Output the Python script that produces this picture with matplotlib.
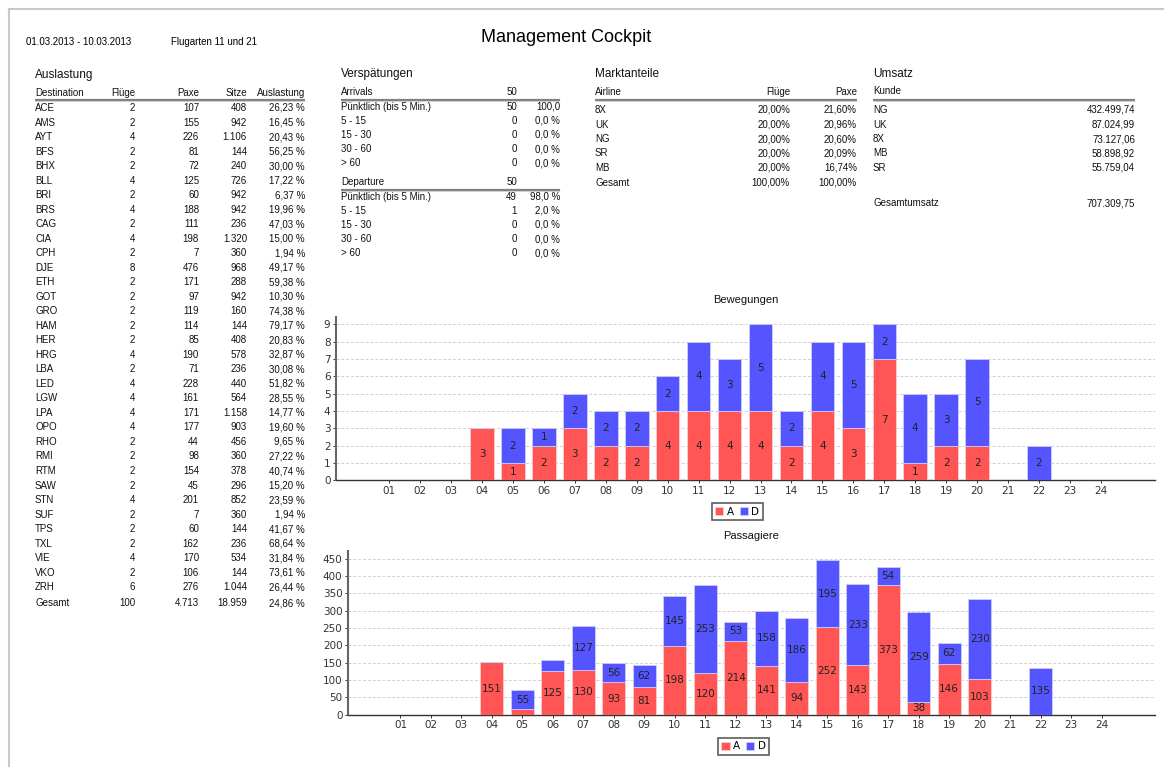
import matplotlib
matplotlib.use('Agg')
import matplotlib.pyplot as plt
import numpy as np

# --- data -------------------------------------------------------------
date_range = '01.03.2013 - 10.03.2013'
flugarten = 'Flugarten 11 und 21'

dest = ['ACE', 'AMS', 'AYT', 'BFS', 'BHX', 'BLL', 'BRI', 'BRS', 'CAG', 'CIA', 'CPH',
        'DJE', 'ETH', 'GOT', 'GRO', 'HAM', 'HER', 'HRG', 'LBA', 'LED', 'LGW', 'LPA',
        'OPO', 'RHO', 'RMI', 'RTM', 'SAW', 'STN', 'SUF', 'TPS', 'TXL', 'VIE', 'VKO', 'ZRH']
fluege = [2, 2, 4, 2, 2, 4, 2, 4, 2, 4, 2, 8, 2, 2, 2, 2, 2, 4, 2, 4, 4, 4,
          4, 2, 2, 2, 2, 4, 2, 2, 2, 4, 2, 6]
paxe = [107, 155, 226, 81, 72, 125, 60, 188, 111, 198, 7, 476, 171, 97, 119, 114, 85,
        190, 71, 228, 161, 171, 177, 44, 98, 154, 45, 201, 7, 60, 162, 170, 106, 276]
sitze = [408, 942, 1106, 144, 240, 726, 942, 942, 236, 1320, 360, 968, 288, 942, 160,
         144, 408, 578, 236, 440, 564, 1158, 903, 456, 360, 378, 296, 852, 360, 144,
         236, 534, 144, 1044]
auslastung = ['26,23 %', '16,45 %', '20,43 %', '56,25 %', '30,00 %', '17,22 %', '6,37 %',
              '19,96 %', '47,03 %', '15,00 %', '1,94 %', '49,17 %', '59,38 %', '10,30 %',
              '74,38 %', '79,17 %', '20,83 %', '32,87 %', '30,08 %', '51,82 %', '28,55 %',
              '14,77 %', '19,60 %', '9,65 %', '27,22 %', '40,74 %', '15,20 %', '23,59 %',
              '1,94 %', '41,67 %', '68,64 %', '31,84 %', '73,61 %', '26,44 %']
gesamt_ausl = ['Gesamt', '100', '4.713', '18.959', '24,86 %']

delay_classes = ['Pünktlich (bis 5 Min.)', '5 - 15', '15 - 30', '30 - 60', '> 60']
arr_total = 50
arr_counts = [50, 0, 0, 0, 0]
arr_pct = ['100,0', '0,0 %', '0,0 %', '0,0 %', '0,0 %']
dep_total = 50
dep_counts = [49, 1, 0, 0, 0]
dep_pct = ['98,0 %', '2,0 %', '0,0 %', '0,0 %', '0,0 %']

airlines = ['8X', 'UK', 'NG', 'SR', 'MB', 'Gesamt']
markt_fluege = ['20,00%', '20,00%', '20,00%', '20,00%', '20,00%', '100,00%']
markt_paxe = ['21,60%', '20,96%', '20,60%', '20,09%', '16,74%', '100,00%']

kunden = ['NG', 'UK', '8X', 'MB', 'SR']
umsatz = ['432.499,74', '87.024,99', '73.127,06', '58.898,92', '55.759,04']
gesamtumsatz = '707.309,75'

hours = ['%02d' % h for h in range(1, 25)]
bew_a = [0, 0, 0, 3, 1, 2, 3, 2, 2, 4, 4, 4, 4, 2, 4, 3, 7, 1, 2, 2, 0, 0, 0, 0]
bew_d = [0, 0, 0, 0, 2, 1, 2, 2, 2, 2, 4, 3, 5, 2, 4, 5, 2, 4, 3, 5, 0, 2, 0, 0]
pax_a = [0, 0, 0, 151, 16, 125, 130, 93, 81, 198, 120, 214, 141, 94, 252, 143, 373, 38,
         146, 103, 0, 0, 0, 0]
pax_d = [0, 0, 0, 0, 55, 32, 127, 56, 62, 145, 253, 53, 158, 186, 195, 233, 54, 259,
         62, 230, 0, 135, 0, 0]

RED = '#ff5555'
BLUE = '#5555ff'
W, H = 1164, 767
TF = 'Liberation Sans'


def de(n):
    return '{:,}'.format(n).replace(',', '.')


fig = plt.figure(figsize=(W / 100, H / 100), dpi=100)
bg = fig.add_axes([0, 0, 1, 1])
bg.set_xlim(0, W)
bg.set_ylim(H, 0)
bg.axis('off')

# page border
bg.plot([9, W], [9, 9], color='#c8c8c8', lw=1.5)
bg.plot([9, 9], [9, H], color='#c8c8c8', lw=1.5)

bg.text(26, 42, date_range, fontsize=7, family=TF, va='center')
bg.text(171, 42, flugarten, fontsize=7, family=TF, va='center')
bg.text(566, 37, 'Management Cockpit', fontsize=13, family=TF, ha='center', va='center')


def header_line(x0, x1, y):
    bg.plot([x0, x1], [y, y], color='#808080', lw=1.6, solid_capstyle='butt')
    bg.plot([x0, x1], [y + 1.5, y + 1.5], color='#d0d0d0', lw=0.8, solid_capstyle='butt')


def txt(x, y, s, ha='left', size=7):
    bg.text(x, y, s, fontsize=size, family=TF, ha=ha, va='center', color='#111')


# Auslastung table
txt(35, 75, 'Auslastung', size=8.5)
cols = [(35, 'left'), (135, 'right'), (199, 'right'), (247, 'right'), (305, 'right')]
for (x, ha), s in zip(cols, ['Destination', 'Flüge', 'Paxe', 'Sitze', 'Auslastung']):
    txt(x, 93, s, ha)
header_line(35, 305, 99.5)
for i in range(len(dest)):
    y = 108 + i * 14.52
    row = [dest[i], str(fluege[i]), de(paxe[i]), de(sitze[i]), auslastung[i]]
    for (x, ha), s in zip(cols, row):
        txt(x, y, s, ha)
for (x, ha), s in zip(cols, gesamt_ausl):
    txt(x, 603.5, s, ha)

# Verspaetungen
txt(341, 74, 'Verspätungen', size=8.5)
for y0, name, tot, cnt, pct in [(92, 'Arrivals', arr_total, arr_counts, arr_pct),
                                 (182, 'Departure', dep_total, dep_counts, dep_pct)]:
    txt(341, y0, name)
    txt(517, y0, str(tot), 'right')
    header_line(341, 560, y0 + 7.5)
    for j, lab in enumerate(delay_classes):
        y = y0 + 14.5 + j * 14.2
        txt(341, y, lab)
        txt(517, y, str(cnt[j]), 'right')
        txt(560, y, pct[j], 'right')

# Marktanteile
txt(595, 74, 'Marktanteile', size=8.5)
txt(595, 92, 'Airline')
txt(790, 92, 'Flüge', 'right')
txt(857, 92, 'Paxe', 'right')
header_line(595, 857, 99.5)
for j, a in enumerate(airlines):
    y = 110 + j * 14.5
    txt(595, y, a)
    txt(790, y, markt_fluege[j], 'right')
    txt(857, y, markt_paxe[j], 'right')

# Umsatz
txt(873, 74, 'Umsatz', size=8.5)
txt(873, 91, 'Kunde')
header_line(873, 1135, 99.5)
for j, k in enumerate(kunden):
    y = 110 + j * 14.5
    txt(873, y, k)
    txt(1135, y, umsatz[j], 'right')
txt(873, 203, 'Gesamtumsatz')
txt(1135, 203, gesamtumsatz, 'right')


# --- bar charts --------------------------------------------------------
def stacked(left, right, top, bottom, a, d, ymax, step, min_label, title, ty):
    ax = fig.add_axes([left / W, (H - bottom) / H, (right - left) / W, (bottom - top) / H])
    x = np.arange(1, 25)
    a = np.array(a)
    d = np.array(d)
    ax.bar(x, a, width=0.76, color=RED, edgecolor='#ffcccc', lw=0.6, label='A', zorder=3)
    ax.bar(x, d, width=0.76, bottom=a, color=BLUE, edgecolor='#ccccff', lw=0.6,
           label='D', zorder=3)
    for xi, ai, di in zip(x, a, d):
        if ai >= min_label:
            ax.text(xi, ai / 2, str(ai), ha='center', va='center', fontsize=7.5,
                    color='#222', zorder=4)
        if di >= min_label:
            ax.text(xi, ai + di / 2, str(di), ha='center', va='center', fontsize=7.5,
                    color='#222', zorder=4)
    ax.set_xlim(-0.72, 25.75)
    ax.set_ylim(0, ymax * 1.05)
    ax.set_xticks(x)
    ax.set_xticklabels(hours)
    ax.set_yticks(np.arange(0, ymax + 1, step))
    ax.yaxis.grid(True, color='#d0d0d0', ls=(0, (3, 2)), lw=0.7, zorder=0)
    ax.tick_params(labelsize=7.5, colors='#333', length=2, width=0.7, pad=2)
    for s in ['top', 'right']:
        ax.spines[s].set_visible(False)
    ax.spines['left'].set_color('#666')
    ax.spines['left'].set_linewidth(1.5)
    ax.spines['bottom'].set_color('#333')
    ax.spines['bottom'].set_linestyle((0, (2, 1)))
    ax.spines['bottom'].set_linewidth(1)
    leg = ax.legend(loc='upper center', bbox_to_anchor=(0.49, -0.14), ncol=2,
                    fancybox=False, edgecolor='#333', fontsize=7.5, handlelength=0.8,
                    handleheight=0.8, handletextpad=0.3, columnspacing=0.6,
                    borderpad=0.35, borderaxespad=0)
    leg.get_frame().set_linewidth(1.2)
    bg.text((left + right) / 2, ty, title, ha='center', va='center', fontsize=8,
            family=TF, color='#111')
    return ax


stacked(336, 1155, 316.7, 480.3, bew_a, bew_d, 9, 1, 1, 'Bewegungen', 300)
stacked(348, 1155, 551, 714.7, pax_a, pax_d, 450, 50, 35, 'Passagiere', 536)

fig.savefig('out.png', dpi=100)
